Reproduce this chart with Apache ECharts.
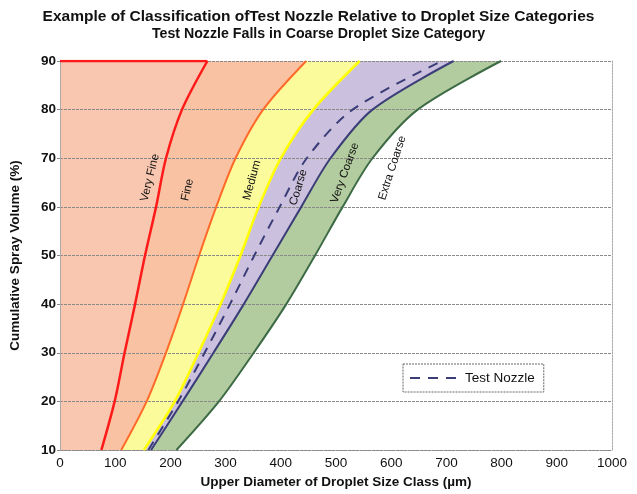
<!DOCTYPE html>
<html>
<head>
<meta charset="utf-8">
<script src="https://cdn.jsdelivr.net/npm/echarts@6/dist/echarts.min.js"></script>
<style>html,body{margin:0;padding:0;background:#fff}#c{width:637px;height:494px}</style>
</head>
<body>
<div id="c"></div>
<script>
// Cumulative volume levels (%) and upper diameters (µm) of each boundary curve
var levels = [10, 20, 30, 40, 50, 60, 70, 80, 90];
var veryFine   = [75, 99, 117, 136, 154, 174, 192, 221, 267];
var fine       = [111, 157, 192, 223, 252, 283, 318, 368, 446];
var medium     = [152, 208, 251, 291, 327, 360, 400, 459, 543];
var coarse     = [165, 222, 278, 333, 385, 437, 490, 566, 713];
var veryCoarse = [211, 288, 351, 410, 462, 512, 566, 648, 799];
var testNozzle = [160, 214, 262, 308, 352, 398, 447, 530, 692];
var xTicks = [0, 100, 200, 300, 400, 500, 600, 700, 800, 900, 1000];
var yTicks = [10, 20, 30, 40, 50, 60, 70, 80, 90];
var categoryNames = ['Very Fine', 'Fine', 'Medium', 'Coarse', 'Very Coarse', 'Extra Coarse'];

var FONT = '"Liberation Sans", Arial, sans-serif';
var SMOOTH = 0.3;
var yMin = levels[0], yMax = levels[levels.length - 1];

function pts(xs) { return xs.map(function (x, i) { return [x, levels[i]]; }); }

// fill to the left of a curve: area above the curve + full-height band left of its first point
function fillSeries(xs, color) {
  return [{
    type: 'line', data: pts(xs), smooth: SMOOTH, symbol: 'none', silent: true,
    lineStyle: { width: 0, opacity: 0 },
    areaStyle: { color: color, opacity: 1, origin: 'end' }, z: 1
  }, {
    type: 'line', data: [[0, yMax], [xs[0] + 2, yMax]], symbol: 'none', silent: true,
    lineStyle: { width: 0, opacity: 0 },
    areaStyle: { color: color, opacity: 1, origin: 'start' }, z: 1
  }];
}
function lineSeries(name, xs, color, width, dash) {
  return {
    name: name, type: 'line', data: pts(xs), smooth: SMOOTH, symbol: 'none', showSymbol: false,
    lineStyle: { color: color, width: width, type: dash || 'solid' },
    z: 5
  };
}

var series = [].concat(
  fillSeries(veryCoarse, '#b3cc9f'),
  fillSeries(coarse, '#cbc0dd'),
  fillSeries(medium, '#fbfb9b'),
  fillSeries(fine, '#f9c2a2'),
  fillSeries(veryFine, '#f9c6b0'),
  [
    lineSeries('vc', veryCoarse, '#3d6b45', 2),
    lineSeries('c', coarse, '#3a3d78', 2),
    lineSeries('m', medium, '#ffff00', 2.5),
    lineSeries('f', fine, '#ff6a2a', 2),
    lineSeries('vf', veryFine, '#ff1a1a', 2.5),
    {
      name: 'vfTop', type: 'line', symbol: 'none',
      data: [[0, yMax], [veryFine[veryFine.length - 1], yMax]],
      lineStyle: { color: '#ff1a1a', width: 2.5 }, z: 5
    },
    lineSeries('Test Nozzle', testNozzle, '#3a3d78', 2, [10, 8])
  ]
);

var chart = echarts.init(document.getElementById('c'));
chart.setOption({
  animation: false,
  backgroundColor: '#fff',
  title: [
    { text: 'Example of Classification ofTest Nozzle Relative to Droplet Size Categories', left: 'center', top: 4,
      textStyle: { fontFamily: FONT, fontWeight: 'bold', fontSize: 15.5, color: '#111' } },
    { text: 'Test Nozzle Falls in Coarse Droplet Size Category', left: 'center', top: 22,
      textStyle: { fontFamily: FONT, fontWeight: 'bold', fontSize: 14.2, color: '#111' } }
  ],
  legend: {
    data: [{ name: 'Test Nozzle' }],
    left: 403, top: 364, itemWidth: 50, itemHeight: 12, itemGap: 4,
    padding: [7, 9, 7, 6],
    itemStyle: { opacity: 0 },
    borderColor: '#666', borderWidth: 1, borderType: [2, 1],
    textStyle: { fontFamily: FONT, fontSize: 13.5, color: '#111' }
  },
  grid: { left: 54, right: 25, top: 61, bottom: 44 },
  xAxis: {
    type: 'value', min: 0, max: 1000, interval: 100,
    name: 'Upper Diameter of Droplet Size Class (µm)', nameLocation: 'middle', nameGap: 24,
    nameTextStyle: { fontFamily: FONT, fontWeight: 'bold', fontSize: 13.5, color: '#111' },
    axisLine: { show: true, lineStyle: { color: '#999', type: [2, 1] } },
    axisTick: { show: false },
    splitLine: { show: false },
    axisLabel: { fontFamily: FONT, fontSize: 13.5, color: '#111', margin: 6,
      formatter: function (v) { return xTicks.indexOf(v) >= 0 ? String(v) : ''; } }
  },
  yAxis: [{
    type: 'value', min: yMin, max: yMax, interval: 10, z: 3,
    name: 'Cumulative Spray Volume (%)', nameLocation: 'middle', nameGap: 38,
    nameTextStyle: { fontFamily: FONT, fontWeight: 'bold', fontSize: 13.5, color: '#111' },
    axisLine: { show: true, lineStyle: { color: '#aaa' } },
    axisTick: { show: true, length: 3, lineStyle: { color: '#888' } },
    splitLine: { show: true, lineStyle: { color: '#8a8a8a', width: 1, type: [3, 1] } },
    axisLabel: { fontFamily: FONT, fontWeight: 'bold', fontSize: 13.5, color: '#111', margin: 4,
      formatter: function (v) { return yTicks.indexOf(v) >= 0 ? String(v) : ''; } }
  }, {
    type: 'value', min: yMin, max: yMax, interval: 10, position: 'right',
    axisLine: { show: true, lineStyle: { color: '#aaa', type: [2, 1] } },
    axisTick: { show: false }, axisLabel: { show: false }, splitLine: { show: false }
  }],
  series: series
});

// Category labels placed in data coordinates
var labelPos = [[163, 66], [231, 63.5], [348, 65.5], [432, 64], [516, 67], [602, 68]];
var labelRot = [76, 77, 75, 73, 70, 72];
var g = categoryNames.map(function (t, i) {
  var p = chart.convertToPixel({ gridIndex: 0 }, labelPos[i]);
  return {
    type: 'text', x: p[0], y: p[1], rotation: labelRot[i] * Math.PI / 180, z: 20,
    style: { text: t, fontFamily: FONT, fontSize: 11.5, fill: '#111', align: 'center', verticalAlign: 'middle' }
  };
});
chart.setOption({ graphic: g });
</script>
</body>
</html>
